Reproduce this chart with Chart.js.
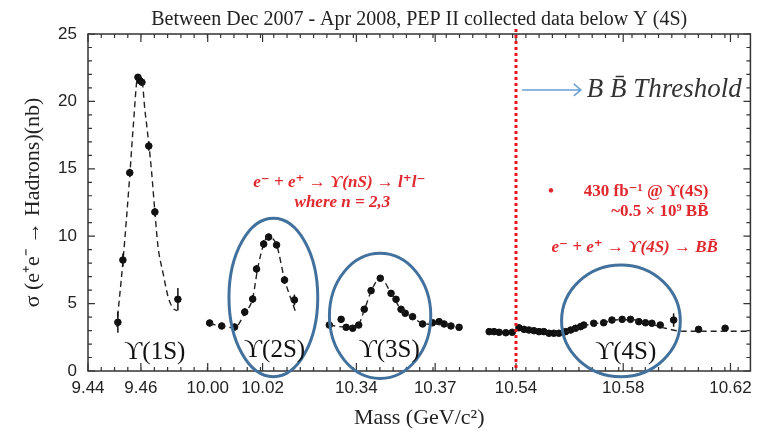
<!DOCTYPE html>
<html>
<head>
<meta charset="utf-8">
<script src="https://cdn.jsdelivr.net/npm/chart.js@4.4.1/dist/chart.umd.min.js"></script>
<style>
html, body { margin: 0; padding: 0; background: #fff; }
</style>
</head>
<body>
<canvas id="upsilonchart" width="759" height="438"></canvas>
<script>
// broken mass axis: tick labels and where they sit
var tickLabels = ["9.44", "9.46", "10.00", "10.02", "10.34", "10.37", "10.54", "10.58", "10.62"];
var tickMass = [9.44, 9.46, 10.00, 10.02, 10.34, 10.37, 10.54, 10.58, 10.62];
var yTicks = [0, 5, 10, 15, 20, 25];

// measured points: mass (GeV), sigma (nb), error (nb)
var y1sMass = [9.4513, 9.4532, 9.4558, 9.4589, 9.4596, 9.4604, 9.4630, 9.4653, 9.4740];
var y1sSigma = [3.61, 8.23, 14.71, 21.79, 21.54, 21.42, 16.69, 11.8, 5.32];
var y1sErr = [0.77, 0.48, 0.3, 0.25, 0.25, 0.25, 0.35, 0.3, 0.83];

var y2sMass = [10.0007, 10.0051, 10.0098, 10.0135, 10.0164, 10.0178, 10.0204, 10.0222, 10.0251, 10.0280, 10.0316];
var y2sSigma = [3.56, 3.34, 3.26, 4.38, 5.34, 7.57, 9.42, 9.94, 9.35, 6.75, 5.27];
var y2sErr = [0.25, 0.25, 0.25, 0.3, 0.3, 0.3, 0.3, 0.25, 0.25, 0.3, 0.4];

var y3sMass = [10.3297, 10.3342, 10.3361, 10.3386, 10.3409, 10.3430, 10.3456, 10.3491, 10.3532, 10.3551,
    10.3570, 10.3586, 10.3614, 10.3652, 10.3690, 10.3715, 10.3734, 10.3760, 10.3791];
var y3sSigma = [3.41, 3.83, 3.24, 3.17, 3.41, 4.58, 5.96, 6.88, 5.76, 5.32,
    4.58, 4.28, 4.03, 3.49, 3.58, 3.66, 3.49, 3.34, 3.24];
var y3sErr = [0.2, 0.25, 0.2, 0.2, 0.2, 0.25, 0.25, 0.2, 0.25, 0.25,
    0.2, 0.2, 0.2, 0.2, 0.2, 0.2, 0.2, 0.2, 0.2];

var y4sMass = [10.5300, 10.5318, 10.5337, 10.5362, 10.5386, 10.5411, 10.5430, 10.5448, 10.5467, 10.5486,
    10.5504, 10.5523, 10.5541, 10.5560, 10.5585, 10.5604, 10.5622, 10.5641, 10.5653, 10.5690,
    10.5727, 10.5758, 10.5796, 10.5827, 10.5858, 10.5883, 10.5907, 10.5938, 10.5988, 10.6081, 10.6180];
var y4sSigma = [2.92, 2.92, 2.87, 2.84, 2.87, 3.21, 3.09, 3.04, 2.99, 2.92,
    2.92, 2.80, 2.80, 2.80, 2.92, 3.04, 3.17, 3.29, 3.41, 3.54,
    3.58, 3.78, 3.83, 3.83, 3.66, 3.58, 3.54, 3.41, 3.78, 3.09, 3.17];
var y4sErr = [0.15, 0.15, 0.15, 0.15, 0.15, 0.2, 0.15, 0.15, 0.15, 0.15,
    0.15, 0.15, 0.15, 0.15, 0.15, 0.15, 0.15, 0.15, 0.15, 0.15,
    0.15, 0.15, 0.15, 0.15, 0.15, 0.15, 0.15, 0.15, 0.5, 0.15, 0.15];

// dashed fit curves
var fit1sMass = [9.4508, 9.4532, 9.4558, 9.4571, 9.4589, 9.4604, 9.4615, 9.4624, 9.4640, 9.4653, 9.4665, 9.4684, 9.4703, 9.4722, 9.4737];
var fit1sSigma = [3.29, 8.09, 14.5, 18.1, 21.9, 21.6, 19.4, 17.9, 14.9, 11.8, 9.2, 7.25, 5.5, 4.65, 4.47];
var fit2sMass = [10.0007, 10.0051, 10.0098, 10.0135, 10.0164, 10.0182, 10.0204, 10.0218, 10.0251, 10.0280, 10.0320];
var fit2sSigma = [3.5, 3.35, 3.2, 4.3, 5.4, 7.6, 9.4, 9.95, 9.35, 6.8, 4.4];
var fit3sMass = [10.3297, 10.3362, 10.3404, 10.3430, 10.3457, 10.3491, 10.3533, 10.3571, 10.3613, 10.3658, 10.3734, 10.3799];
var fit3sSigma = [3.4, 3.25, 3.35, 4.5, 5.95, 6.9, 5.75, 4.55, 4.0, 3.5, 3.45, 3.25];
var fit4sMass = [10.5504, 10.5560, 10.5616, 10.5672, 10.5727, 10.5783, 10.5839, 10.5895, 10.5951, 10.6025, 10.6118, 10.6274];
var fit4sSigma = [2.9, 2.8, 3.1, 3.45, 3.6, 3.8, 3.8, 3.55, 3.2, 2.95, 2.95, 2.95];

// pieces of the broken axis: [mass from, mass to, axis pos from, axis pos to]
var massPieces = [
    [9.44, 9.46, 0, 53],
    [10.00, 10.02, 120, 175],
    [10.34, 10.37, 269, 348],
    [10.54, 10.62, 429, 644]
];
function massToPos(m) {
    var best = massPieces[0], bestDist = Infinity;
    massPieces.forEach(function (p) {
        var d = m < p[0] ? p[0] - m : (m > p[1] ? m - p[1] : 0);
        if (d < bestDist) { bestDist = d; best = p; }
    });
    return best[2] + (m - best[0]) * (best[3] - best[2]) / (best[1] - best[0]);
}
function toXY(mass, sigma) {
    return mass.map(function (m, i) { return { x: massToPos(m), y: sigma[i] }; });
}

var redText = "#e0282e";
var ellipseBlue = "#41719c";

function pointSet(mass, sigma, err) {
    return {
        type: "scatter",
        data: toXY(mass, sigma),
        errors: err,
        backgroundColor: "#111",
        borderColor: "#111",
        pointRadius: 3.3,
        pointHoverRadius: 3.3,
        showLine: false,
    };
}
function fitSet(mass, sigma) {
    return {
        type: "line",
        data: toXY(mass, sigma),
        borderColor: "#222",
        borderWidth: 1.4,
        borderDash: [6, 4],
        pointRadius: 0,
        fill: false,
        cubicInterpolationMode: "monotone",
    };
}

function txt(ctx, s, x, y, font, color, align) {
    ctx.font = font;
    ctx.fillStyle = color;
    ctx.textAlign = align || "center";
    ctx.textBaseline = "middle";
    ctx.fillText(s, x, y);
}

const errorBars = {
    id: "errorBars",
    afterDatasetsDraw: function (chart) {
        var ctx = chart.ctx, ys = chart.scales.y;
        chart.data.datasets.forEach(function (ds, di) {
            if (!ds.errors) return;
            var meta = chart.getDatasetMeta(di);
            ctx.save();
            ctx.strokeStyle = "#111";
            ctx.lineWidth = 1.5;
            meta.data.forEach(function (pt, i) {
                var v = ds.data[i].y, e = ds.errors[i];
                ctx.beginPath();
                ctx.moveTo(pt.x, ys.getPixelForValue(v - e));
                ctx.lineTo(pt.x, ys.getPixelForValue(v + e));
                ctx.stroke();
            });
            ctx.restore();
        });
    }
};

const decorations = {
    id: "decorations",
    afterDatasetsDraw: function (chart) {
        var ctx = chart.ctx, a = chart.chartArea;
        var xs = chart.scales.x, ys = chart.scales.y;
        var X = function (p) { return xs.getPixelForValue(p); };
        var Y = function (v) { return ys.getPixelForValue(v); };
        ctx.save();

        // frame with inward ticks on all sides
        ctx.strokeStyle = "#333";
        ctx.lineWidth = 1.5;
        ctx.strokeRect(a.left, a.top, a.right - a.left, a.bottom - a.top);
        ctx.lineWidth = 1.2;
        ctx.beginPath();
        for (var v = 0; v <= 25; v++) {
            var len = v % 5 == 0 ? 7 : 4;
            ctx.moveTo(a.left, Y(v)); ctx.lineTo(a.left + len, Y(v));
            ctx.moveTo(a.right, Y(v)); ctx.lineTo(a.right - len, Y(v));
        }
        for (var p = 0; p <= 664; p += 13.3) {
            ctx.moveTo(X(p), a.bottom); ctx.lineTo(X(p), a.bottom - 4);
            ctx.moveTo(X(p), a.top); ctx.lineTo(X(p), a.top + 4);
        }
        tickMass.forEach(function (m) {
            var px = X(massToPos(m));
            ctx.moveTo(px, a.bottom); ctx.lineTo(px, a.bottom - 8);
            ctx.moveTo(px, a.top); ctx.lineTo(px, a.top + 8);
        });
        ctx.stroke();

        // BB threshold line
        ctx.strokeStyle = "#e8161b";
        ctx.lineWidth = 3;
        ctx.setLineDash([3, 3]);
        ctx.beginPath();
        ctx.moveTo(X(massToPos(10.54)), a.top - 5);
        ctx.lineTo(X(massToPos(10.54)), a.bottom);
        ctx.stroke();
        ctx.setLineDash([]);

        // ellipses around the resonances: [pos, sigma, half width (pos), half height (sigma)]
        var rings = [[185.8, 5.45, 44.5, 5.88], [292.8, 4.09, 50.8, 4.64], [534.2, 3.72, 59.5, 4.14]];
        ctx.strokeStyle = ellipseBlue;
        ctx.lineWidth = 3;
        rings.forEach(function (r) {
            var cx = X(r[0]), cy = Y(r[1]);
            ctx.beginPath();
            ctx.ellipse(cx, cy, X(r[0] + r[2]) - cx, cy - Y(r[1] + r[3]), 0, 0, Math.PI * 2);
            ctx.stroke();
        });

        // resonance names
        var serif = '"Liberation Serif", "DejaVu Serif", serif';
        txt(ctx, "ϒ(1S)", X(67), Y(1.34), "25px " + serif, "#111");
        txt(ctx, "ϒ(2S)", X(187), Y(1.56), "25px " + serif, "#111");
        txt(ctx, "ϒ(3S)", X(302), Y(1.56), "25px " + serif, "#111");
        txt(ctx, "ϒ(4S)", X(539), Y(1.41), "25px " + serif, "#111");

        // threshold arrow
        ctx.strokeStyle = "#6a9fd4";
        ctx.lineWidth = 1.5;
        var ay = Y(20.85), ax0 = X(435), ax1 = X(494);
        ctx.beginPath();
        ctx.moveTo(ax0, ay); ctx.lineTo(ax1, ay);
        ctx.moveTo(ax1 - 7, ay - 6); ctx.lineTo(ax1, ay); ctx.lineTo(ax1 - 7, ay + 6);
        ctx.stroke();
        txt(ctx, "B B\u0304 Threshold", X(500), ay, "italic 27px " + serif, "#333", "left");

        // red notes
        var redFont = "bold italic 17px " + serif;
        txt(ctx, "e\u207B + e\u207A \u2192 ϒ(nS) \u2192 l\u207Al\u207B", X(252), Y(13.95), redFont, redText);
        txt(ctx, "where n = 2,3", X(255), Y(12.46), redFont, redText);
        txt(ctx, "\u2022", X(464), Y(13.28), "bold 17px " + serif, redText);
        txt(ctx, "430 fb\u207B\u00B9 @ ϒ(4S)", X(622), Y(13.28), "bold 17px " + serif, redText, "right");
        txt(ctx, "~0.5 \u00D7 10\u2079 BB\u0304", X(622), Y(11.8), "bold 17px " + serif, redText, "right");
        txt(ctx, "e\u207B + e\u207A \u2192 ϒ(4S) \u2192 BB\u0304", X(548), Y(9.12), redFont, redText);

        ctx.restore();
    }
};

const config = {
    data: {
        datasets: [
            fitSet(fit1sMass, fit1sSigma),
            fitSet(fit2sMass, fit2sSigma),
            fitSet(fit3sMass, fit3sSigma),
            fitSet(fit4sMass, fit4sSigma),
            pointSet(y1sMass, y1sSigma, y1sErr),
            pointSet(y2sMass, y2sSigma, y2sErr),
            pointSet(y3sMass, y3sSigma, y3sErr),
            pointSet(y4sMass, y4sSigma, y4sErr),
        ],
    },
    options: {
        responsive: false,
        animation: false,
        layout: { padding: { left: 0, right: 7, top: 0, bottom: 0 } },
        plugins: {
            legend: { display: false },
            tooltip: { enabled: false },
            title: {
                display: true,
                fullSize: false,
                text: "Between Dec 2007 - Apr 2008, PEP II collected data below \u03A5 (4S)",
                color: "#222",
                font: { family: '"Liberation Serif", serif', size: 20, weight: "normal", lineHeight: 1.2 },
                padding: { top: 8, bottom: 2 },
            },
        },
        scales: {
            x: {
                type: "linear",
                min: 0,
                max: 664,
                grid: { display: false, drawTicks: false },
                border: { display: false },
                afterBuildTicks: function (scale) {
                    scale.ticks = tickMass.map(function (m) { return { value: massToPos(m) }; });
                },
                afterFit: function (scale) { scale.height = 67; },
                ticks: {
                    autoSkip: false,
                    maxRotation: 0,
                    minRotation: 0,
                    padding: 7,
                    color: "#222",
                    font: { family: '"Liberation Sans", sans-serif', size: 17 },
                    callback: function (value, index) { return tickLabels[index]; },
                },
                title: {
                    display: true,
                    text: "Mass (GeV/c\u00B2)",
                    color: "#222",
                    font: { family: '"Liberation Serif", serif', size: 22, lineHeight: 1.2 },
                    padding: { top: 0, bottom: 7 },
                },
            },
            y: {
                min: 0,
                max: 25,
                grid: { display: false, drawTicks: false },
                border: { display: false },
                afterBuildTicks: function (scale) {
                    scale.ticks = yTicks.map(function (v) { return { value: v }; });
                },
                afterFit: function (scale) { scale.width = 88; },
                ticks: {
                    padding: 11,
                    color: "#222",
                    font: { family: '"Liberation Sans", sans-serif', size: 17 },
                },
                title: {
                    display: true,
                    text: "\u03C3 (e\u207Ae\u207B \u2192 Hadrons)(nb)",
                    color: "#222",
                    font: { family: '"Liberation Serif", serif', size: 22, lineHeight: 1.2 },
                    padding: { top: 20, bottom: 0 },
                },
            },
        },
    },
    plugins: [errorBars, decorations],
};

var upsilonchart = new Chart(document.getElementById("upsilonchart"), config);
</script>
</body>
</html>
